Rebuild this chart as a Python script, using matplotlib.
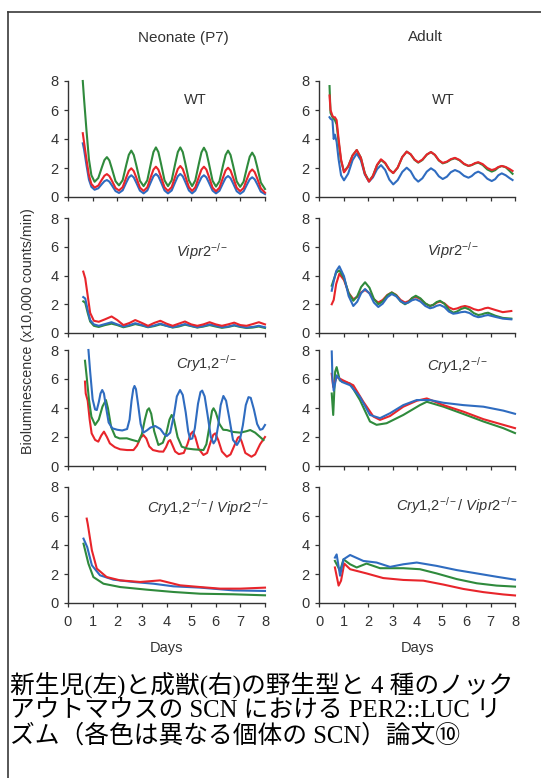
import numpy as np
import matplotlib
matplotlib.use('Agg')
import matplotlib.pyplot as plt
from matplotlib.lines import Line2D

plt.rcParams['font.family'] = ['Liberation Sans', 'DejaVu Sans']
plt.rcParams['mathtext.fontset'] = 'custom'
plt.rcParams['mathtext.rm'] = 'Liberation Sans'
plt.rcParams['mathtext.it'] = 'Liberation Sans:italic'

GREEN = '#2f8a3c'
RED = '#e8252b'
BLUE = '#2f6cc0'
INK = '#333333'

# ---- Neonate WT (shared time axis) ----
neo_wt_t = [0.6, 0.65, 0.75, 0.85, 0.95, 1.08,
            1.23, 1.38, 1.48, 1.58, 1.68, 1.78, 1.93, 2.07,
            2.22, 2.37, 2.47, 2.57, 2.67, 2.77, 2.92, 3.07,
            3.22, 3.37, 3.47, 3.57, 3.67, 3.77, 3.92, 4.06,
            4.21, 4.36, 4.46, 4.56, 4.66, 4.76, 4.91, 5.04,
            5.17, 5.32, 5.42, 5.52, 5.62, 5.72, 5.87, 6.01,
            6.15, 6.3, 6.4, 6.5, 6.6, 6.7, 6.85, 6.99,
            7.13, 7.28, 7.38, 7.48, 7.58, 7.68, 7.83, 8.0]
neo_wt_green = [8.0, 6.8, 4.6, 2.6, 1.5, 1.05,
                1.31, 2.07, 2.55, 2.75, 2.52, 1.97, 1.09, 0.8,
                1.16, 2.24, 2.91, 3.2, 2.9, 2.22, 1.12, 0.75,
                1.15, 2.35, 3.1, 3.42, 3.1, 2.35, 1.15, 0.75,
                1.15, 2.35, 3.1, 3.42, 3.1, 2.35, 1.15, 0.75,
                1.15, 2.34, 3.08, 3.4, 3.08, 2.33, 1.12, 0.72,
                1.09, 2.21, 2.9, 3.2, 2.9, 2.2, 1.08, 0.7,
                1.05, 2.12, 2.78, 3.06, 2.77, 2.1, 1.0, 0.55]
neo_wt_red = [4.4, 3.8, 2.6, 1.5, 0.9, 0.65,
              0.79, 1.21, 1.47, 1.58, 1.44, 1.13, 0.62, 0.45,
              0.68, 1.37, 1.8, 1.98, 1.79, 1.36, 0.65, 0.42,
              0.67, 1.42, 1.89, 2.09, 1.89, 1.42, 0.67, 0.42,
              0.68, 1.45, 1.93, 2.14, 1.93, 1.45, 0.68, 0.42,
              0.67, 1.42, 1.89, 2.09, 1.89, 1.41, 0.65, 0.4,
              0.64, 1.37, 1.83, 2.02, 1.83, 1.37, 0.64, 0.4,
              0.62, 1.3, 1.72, 1.9, 1.72, 1.3, 0.6, 0.3]
neo_wt_blue = [3.7, 3.3, 2.2, 1.2, 0.7, 0.5,
               0.6, 0.9, 1.09, 1.17, 1.06, 0.81, 0.41, 0.28,
               0.46, 1.01, 1.35, 1.5, 1.35, 1.0, 0.44, 0.25,
               0.45, 1.05, 1.43, 1.59, 1.43, 1.05, 0.45, 0.25,
               0.45, 1.05, 1.43, 1.59, 1.43, 1.05, 0.45, 0.25,
               0.44, 1.0, 1.35, 1.5, 1.35, 1.0, 0.44, 0.25,
               0.43, 0.97, 1.31, 1.45, 1.3, 0.96, 0.4, 0.22,
               0.39, 0.9, 1.22, 1.36, 1.22, 0.9, 0.37, 0.2]

# ---- Adult WT ----
ad_wt_t = [0.43, 0.47, 0.55, 0.6, 0.65, 0.72, 0.8, 0.9, 1.02,
           1.19, 1.37, 1.54, 1.71, 1.87, 2.04,
           2.2, 2.37, 2.53, 2.7, 2.87, 3.03,
           3.21, 3.4, 3.58, 3.74, 3.9, 4.05,
           4.22, 4.4, 4.57, 4.73, 4.89, 5.05,
           5.22, 5.38, 5.55, 5.73, 5.92, 6.1,
           6.23, 6.37, 6.5, 6.68, 6.87, 7.05,
           7.19, 7.32, 7.46, 7.62, 7.78, 7.9]
ad_wt_green = [7.65, 5.8, 5.5, 5.4, 5.3, 5.0, 3.8, 2.5, 1.75,
               2.12, 2.87, 3.24, 2.71, 1.64, 1.1,
               1.46, 2.19, 2.55, 2.33, 1.88, 1.65,
               2.02, 2.76, 3.13, 2.94, 2.56, 2.37,
               2.55, 2.92, 3.1, 2.9, 2.52, 2.32,
               2.41, 2.58, 2.67, 2.54, 2.27, 2.14,
               2.2, 2.31, 2.37, 2.21, 1.9, 1.75,
               1.85, 2.04, 2.14, 2.05, 1.8, 1.6]
ad_wt_red = [7.0, 6.0, 5.6, 5.5, 5.5, 5.3, 4.0, 2.6, 1.7,
             2.09, 2.86, 3.24, 2.7, 1.61, 1.06,
             1.45, 2.22, 2.6, 2.36, 1.89, 1.65,
             2.02, 2.76, 3.13, 2.95, 2.58, 2.4,
             2.58, 2.93, 3.1, 2.91, 2.54, 2.35,
             2.44, 2.61, 2.7, 2.56, 2.29, 2.15,
             2.21, 2.34, 2.4, 2.27, 2.0, 1.86,
             1.93, 2.07, 2.14, 2.07, 1.93, 1.8]
ad_wt_blue = [5.5, 5.4, 5.3, 4.0, 4.3, 3.8, 2.6, 1.5, 1.15,
              1.61, 2.54, 3.0, 2.52, 1.55, 1.06,
              1.35, 1.92, 2.2, 1.87, 1.2, 0.87,
              1.16, 1.73, 2.02, 1.78, 1.3, 1.06,
              1.29, 1.75, 1.98, 1.8, 1.43, 1.24,
              1.4, 1.71, 1.86, 1.73, 1.46, 1.33,
              1.44, 1.65, 1.75, 1.59, 1.26, 1.1,
              1.23, 1.5, 1.63, 1.5, 1.3, 1.17]

# ---- Neonate Vipr2-/- ----
neo_vp_t = [0.62, 0.7, 0.8, 0.9, 1.05, 1.25, 1.5, 1.77, 2.0, 2.25, 2.5, 2.73,
            3.0, 3.25, 3.5, 3.75, 4.0, 4.25, 4.5, 4.75, 5.0, 5.25, 5.5, 5.75,
            6.0, 6.25, 6.5, 6.75, 7.0, 7.25, 7.5, 7.75, 8.0]
neo_vp_red = [4.27, 3.8, 2.6, 1.4, 0.85, 0.78, 0.95, 1.15, 0.9, 0.55, 0.7, 0.9,
              0.7, 0.5, 0.7, 0.85, 0.65, 0.5, 0.65, 0.8, 0.6, 0.5, 0.6, 0.75,
              0.6, 0.5, 0.6, 0.72, 0.55, 0.5, 0.62, 0.75, 0.6]
neo_vp_blue = [2.5, 2.4, 1.6, 0.9, 0.6, 0.5, 0.62, 0.75, 0.6, 0.45, 0.55, 0.68,
               0.55, 0.42, 0.52, 0.65, 0.5, 0.4, 0.5, 0.62, 0.5, 0.4, 0.48, 0.6,
               0.5, 0.4, 0.45, 0.55, 0.45, 0.38, 0.42, 0.5, 0.4]
neo_vp_green = [2.2, 2.1, 1.4, 0.8, 0.5, 0.42, 0.55, 0.65, 0.55, 0.4, 0.5, 0.62,
                0.52, 0.4, 0.48, 0.6, 0.5, 0.38, 0.45, 0.58, 0.48, 0.38, 0.45, 0.55,
                0.45, 0.36, 0.42, 0.52, 0.42, 0.35, 0.38, 0.45, 0.35]

# ---- Adult Vipr2-/- ----
ad_vp_t = [0.52, 0.6, 0.7, 0.83, 1.02, 1.21, 1.4, 1.56, 1.72, 1.88,
           2.06, 2.24, 2.42, 2.6, 2.79, 2.97, 3.15, 3.33, 3.51, 3.66, 3.8, 3.95,
           4.14, 4.34, 4.53, 4.67, 4.8, 4.94, 5.12, 5.3, 5.48, 5.64, 5.8, 5.96,
           6.14, 6.32, 6.5, 6.63, 6.77, 6.9, 7.2, 7.5, 7.85]
ad_vp_blue = [2.94, 3.6, 4.3, 4.64, 3.95, 2.57, 1.88, 2.18, 2.77, 3.06,
              2.75, 2.12, 1.81, 2.04, 2.49, 2.71, 2.55, 2.22, 2.05, 2.13, 2.28, 2.35,
              2.19, 1.88, 1.72, 1.78, 1.89, 1.95, 1.8, 1.49, 1.34, 1.38, 1.45, 1.48,
              1.39, 1.2, 1.1, 1.14, 1.21, 1.25, 1.12, 1.0, 0.95]
ad_vp_green = [3.29, 3.7, 4.2, 4.35, 3.82, 2.77, 2.24, 2.56, 3.2, 3.53,
               3.15, 2.38, 2.0, 2.2, 2.62, 2.82, 2.62, 2.2, 2.0, 2.15, 2.44, 2.59,
               2.41, 2.06, 1.88, 1.97, 2.15, 2.24, 2.03, 1.62, 1.41, 1.5, 1.67, 1.76,
               1.63, 1.38, 1.25, 1.29, 1.37, 1.41, 1.2, 1.05, 1.0]
ad_vp_red = [2.0, 2.3, 3.4, 4.12, 3.68, 2.79, 2.35, 2.51, 2.83, 2.99,
             2.77, 2.34, 2.12, 2.3, 2.65, 2.82, 2.65, 2.3, 2.12, 2.22, 2.42, 2.52,
             2.36, 2.04, 1.88, 1.96, 2.11, 2.19, 2.06, 1.79, 1.65, 1.71, 1.82, 1.88,
             1.8, 1.66, 1.58, 1.63, 1.72, 1.76, 1.6, 1.45, 1.53]

# ---- Neonate Cry1,2-/- ----
neo_cry_blue_t = [0.83, 0.9, 1.0, 1.1, 1.17, 1.25, 1.32, 1.39, 1.46, 1.55, 1.65, 1.8,
                  2.0, 2.2, 2.4, 2.5, 2.58, 2.65, 2.7, 2.76, 2.85, 2.95, 3.06,
                  3.2, 3.35, 3.54, 3.75, 3.9, 4.01, 4.15, 4.3, 4.42, 4.55, 4.66,
                  4.78, 4.88, 4.96, 5.05, 5.15, 5.28, 5.38, 5.45, 5.55, 5.67, 5.8,
                  5.91, 6.0, 6.1, 6.2, 6.31, 6.42, 6.55, 6.7, 6.86, 6.98, 7.1,
                  7.22, 7.33, 7.42, 7.55, 7.68, 7.8, 7.9, 8.0]
neo_cry_blue = [8.0, 6.5, 4.6, 3.9, 3.86, 4.4, 5.0, 5.24, 5.0, 4.0, 3.0, 2.6,
                2.5, 2.45, 2.55, 3.2, 4.5, 5.3, 5.52, 5.3, 4.2, 2.9, 2.3,
                2.45, 2.65, 2.76, 2.55, 2.2, 2.07, 2.3, 3.5, 4.8, 5.24, 4.9,
                3.7, 2.4, 1.85, 1.9, 2.6, 4.3, 5.1, 5.2, 4.8, 3.5, 2.0,
                1.56, 1.8, 2.8, 4.2, 4.83, 4.5, 3.3, 1.8, 1.45, 1.8, 2.8,
                4.2, 4.75, 4.7, 3.9, 2.9, 2.5, 2.55, 2.83]
neo_cry_green_t = [0.69, 0.75, 0.85, 0.95, 1.1, 1.25, 1.4, 1.54, 1.62, 1.75, 1.92,
                   2.1, 2.39, 2.6, 2.86, 3.0, 3.12, 3.22, 3.29, 3.38, 3.5, 3.67,
                   3.85, 4.0, 4.12, 4.21, 4.3, 4.45, 4.62, 4.85, 5.1, 5.5, 5.62,
                   5.75, 5.85, 5.91, 6.0, 6.15, 6.3, 6.45, 6.7, 7.0, 7.25, 7.4,
                   7.6, 7.8, 7.94]
neo_cry_green = [7.26, 6.3, 4.6, 3.4, 2.83, 3.2, 4.1, 4.55, 4.0, 2.7, 2.02,
                 1.9, 1.91, 1.8, 1.68, 2.2, 3.2, 3.85, 3.98, 3.6, 2.4, 1.45,
                 1.6, 2.3, 3.2, 3.52, 3.2, 2.0, 1.33, 1.2, 1.15, 1.1, 1.5,
                 2.8, 3.8, 3.98, 3.7, 2.9, 2.5, 2.48, 2.35, 2.3, 2.4, 2.48,
                 2.3, 2.0, 1.79]
neo_cry_red_t = [0.69, 0.72, 0.8, 0.88, 0.96, 1.1, 1.23, 1.35, 1.46, 1.58, 1.7,
                 1.9, 2.12, 2.4, 2.66, 2.8, 2.95, 3.06, 3.18, 3.3, 3.45, 3.7,
                 3.87, 3.98, 4.08, 4.15, 4.25, 4.35, 4.5, 4.7, 4.85, 4.98, 5.07,
                 5.17, 5.3, 5.5, 5.65, 5.8, 5.9, 5.98, 6.1, 6.25, 6.45, 6.6,
                 6.78, 6.9, 6.96, 7.05, 7.2, 7.45, 7.6, 7.8, 8.0]
neo_cry_red = [5.82, 5.0, 4.5, 3.2, 2.25, 1.8, 1.68, 2.1, 2.37, 2.0, 1.56,
               1.3, 1.15, 1.1, 1.1, 1.4, 1.95, 2.14, 1.9, 1.35, 1.1, 1.0,
               0.99, 1.3, 1.7, 1.79, 1.4, 1.0, 0.82, 0.9, 1.5, 2.2, 2.37,
               2.0, 1.2, 0.76, 0.9, 1.7, 2.15, 2.25, 1.8, 1.0, 0.64, 0.8,
               1.5, 1.95, 2.02, 1.7, 0.9, 0.64, 0.8, 1.5, 2.0]

# ---- Adult Cry1,2-/- ----
ad_cry_blue_t = [0.52, 0.55, 0.6, 0.72, 0.93, 1.27, 1.67, 2.08, 2.49, 2.9, 3.44,
                 3.99, 4.53, 5.08, 5.89, 6.71, 7.52, 8.0]
ad_cry_blue = [7.9, 6.0, 5.2, 6.25, 5.8, 5.57, 4.77, 3.52, 3.3, 3.64, 4.2,
               4.55, 4.55, 4.36, 4.2, 4.09, 3.82, 3.6]
ad_cry_red_t = [0.52, 0.58, 0.72, 0.99, 1.4, 1.81, 2.22, 2.49, 2.9, 3.44, 3.99,
                4.4, 5.08, 5.89, 6.71, 7.52, 8.0]
ad_cry_red = [6.36, 5.45, 6.14, 5.9, 5.57, 4.43, 3.41, 3.18, 3.45, 4.09, 4.5,
              4.66, 4.2, 3.75, 3.23, 2.84, 2.61]
ad_cry_green_t = [0.52, 0.58, 0.66, 0.72, 0.85, 1.27, 1.67, 2.08, 2.35, 2.76, 3.44,
                  4.12, 4.4, 5.08, 5.89, 6.71, 7.52, 8.0]
ad_cry_green = [5.0, 3.52, 6.5, 6.82, 5.9, 5.68, 4.55, 3.07, 2.84, 2.95, 3.52,
                4.2, 4.43, 4.09, 3.59, 3.07, 2.61, 2.27]

# ---- Neonate Cry1,2-/-/Vipr2-/- ----
neo_dko_red_t = [0.76, 0.8, 0.97, 1.17, 1.57, 2.12, 2.93, 3.74, 4.55, 5.37, 6.18, 7.0, 8.0]
neo_dko_red = [5.82, 5.47, 3.63, 2.37, 1.79, 1.56, 1.45, 1.56, 1.22, 1.1, 0.99, 0.99, 1.06]
neo_dko_blue_t = [0.63, 0.78, 0.97, 1.3, 1.84, 2.66, 3.47, 4.28, 5.37, 6.72, 8.0]
neo_dko_blue = [4.44, 3.86, 2.6, 1.91, 1.61, 1.45, 1.33, 1.15, 1.06, 0.87, 0.83]
neo_dko_green_t = [0.63, 0.83, 1.03, 1.44, 2.12, 3.2, 4.28, 5.37, 6.72, 8.0]
neo_dko_green = [4.09, 2.71, 1.79, 1.33, 1.1, 0.92, 0.76, 0.64, 0.6, 0.53]

# ---- Adult Cry1,2-/-/Vipr2-/- ----
ad_dko_blue_t = [0.65, 0.72, 0.86, 1.0, 1.27, 1.81, 2.35, 2.9, 3.44, 3.99, 4.8,
                 5.62, 6.44, 7.25, 8.0]
ad_dko_blue = [3.13, 3.35, 1.88, 3.01, 3.31, 2.9, 2.79, 2.49, 2.67, 2.79, 2.56,
               2.27, 2.04, 1.81, 1.61]
ad_dko_green_t = [0.65, 0.86, 1.0, 1.27, 1.54, 1.94, 2.49, 3.44, 4.12, 4.8, 5.62,
                  6.44, 7.25, 8.0]
ad_dko_green = [2.9, 2.22, 3.01, 2.67, 2.45, 2.72, 2.4, 2.4, 2.33, 2.04, 1.65,
                1.36, 1.2, 1.13]
ad_dko_red_t = [0.65, 0.8, 0.9, 1.03, 1.27, 1.94, 2.62, 3.44, 4.26, 5.08, 5.89,
                6.71, 7.52, 8.0]
ad_dko_red = [2.45, 1.2, 1.54, 2.72, 2.33, 2.04, 1.72, 1.59, 1.54, 1.27, 0.97,
              0.75, 0.59, 0.52]

GENO = [r'WT', r'$\mathit{Vipr2}^{-/-}$', r'$\mathit{Cry1{,}2}^{-/-}$',
        r'$\mathit{Cry1{,}2}^{-/-}\mathit{/\ Vipr2}^{-/-}$']

CAPTION = ['新生児(左)と成獣(右)の野生型と 4 種のノック',
           'アウトマウスの SCN における PER2::LUC リ',
           'ズム（各色は異なる個体の SCN）論文⑩']

W, H = 541, 778
fig = plt.figure(figsize=(W / 100, H / 100), dpi=100)
fig.patch.set_facecolor('white')

col_x = [68, 319]
col_w = [197, 196]
row_top = [81, 218, 350, 487]
row_bot = [197, 333, 466, 603]

# label positions (data coords) for each panel: (x, y, ha)
lab_pos = {
    (0, 0): (5.16, 6.7, 'center'), (1, 0): (5.08, 6.7, 'center'),
    (0, 1): (4.4, 5.65, 'left'), (1, 1): (4.4, 5.75, 'left'),
    (0, 2): (4.4, 7.1, 'left'), (1, 2): (4.4, 6.95, 'left'),
    (0, 3): (3.2, 6.55, 'left'), (1, 3): (3.15, 6.75, 'left'),
}

series = {
    (0, 0): [(neo_wt_t, neo_wt_green, GREEN), (neo_wt_t, neo_wt_blue, BLUE), (neo_wt_t, neo_wt_red, RED)],
    (1, 0): [(ad_wt_t, ad_wt_blue, BLUE), (ad_wt_t, ad_wt_green, GREEN), (ad_wt_t, ad_wt_red, RED)],
    (0, 1): [(neo_vp_t, neo_vp_green, GREEN), (neo_vp_t, neo_vp_blue, BLUE), (neo_vp_t, neo_vp_red, RED)],
    (1, 1): [(ad_vp_t, ad_vp_red, RED), (ad_vp_t, ad_vp_green, GREEN), (ad_vp_t, ad_vp_blue, BLUE)],
    (0, 2): [(neo_cry_red_t, neo_cry_red, RED), (neo_cry_green_t, neo_cry_green, GREEN),
             (neo_cry_blue_t, neo_cry_blue, BLUE)],
    (1, 2): [(ad_cry_green_t, ad_cry_green, GREEN), (ad_cry_red_t, ad_cry_red, RED),
             (ad_cry_blue_t, ad_cry_blue, BLUE)],
    (0, 3): [(neo_dko_green_t, neo_dko_green, GREEN), (neo_dko_blue_t, neo_dko_blue, BLUE),
             (neo_dko_red_t, neo_dko_red, RED)],
    (1, 3): [(ad_dko_red_t, ad_dko_red, RED), (ad_dko_green_t, ad_dko_green, GREEN),
             (ad_dko_blue_t, ad_dko_blue, BLUE)],
}

for c in range(2):
    for r in range(4):
        left = col_x[c] / W
        bottom = 1 - row_bot[r] / H
        ax = fig.add_axes([left, bottom, col_w[c] / W, (row_bot[r] - row_top[r]) / H])
        for t, y, col in series[(c, r)]:
            ax.plot(t, y, color=col, lw=1.5, clip_on=False, solid_joinstyle='round')
        ax.set_xlim(0, 8)
        ax.set_ylim(0, 8)
        ax.set_xticks(range(9))
        ax.set_yticks([0, 2, 4, 6, 8])
        for s in ['top', 'right']:
            ax.spines[s].set_visible(False)
        for s in ['left', 'bottom']:
            ax.spines[s].set_color(INK)
            ax.spines[s].set_linewidth(1.0)
        ax.tick_params(direction='out', length=3, width=0.9, colors=INK,
                       labelsize=10.5, pad=4)
        if r < 3:
            ax.set_xticklabels([])
        else:
            ax.tick_params(axis='x', pad=6)
            ax.set_xlabel('Days', fontsize=10.5, color=INK, labelpad=8)
        lx, ly, ha = lab_pos[(c, r)]
        ax.text(lx, ly, GENO[r], fontsize=10.5, color=INK, ha=ha, va='center')

fig.text(183 / W, 1 - 38 / H, 'Neonate (P7)', fontsize=11, color=INK, ha='center', va='center')
fig.text(425 / W, 1 - 37 / H, 'Adult', fontsize=11, color=INK, ha='center', va='center')
fig.text(28 / W, 1 - 331 / H, 'Bioluminescence (x10,000 counts/min)', fontsize=10.3,
         color=INK, rotation=90, ha='center', va='center')

# frame around the figure
fig.add_artist(Line2D([8 / W, 1.0], [1 - 12 / H, 1 - 12 / H], color='#3a3a3a', lw=1.2))
fig.add_artist(Line2D([8 / W, 8 / W], [1 - 12 / H, 0.0], color='#3a3a3a', lw=1.2))

for i, line in enumerate(CAPTION):
    fig.text(10 / W, 1 - (685 + 25.5 * i) / H, line, fontsize=17.8, color='black',
             ha='left', va='center', family=['Liberation Serif', 'Noto Sans CJK JP'])

fig.savefig('out.png', dpi=100)
